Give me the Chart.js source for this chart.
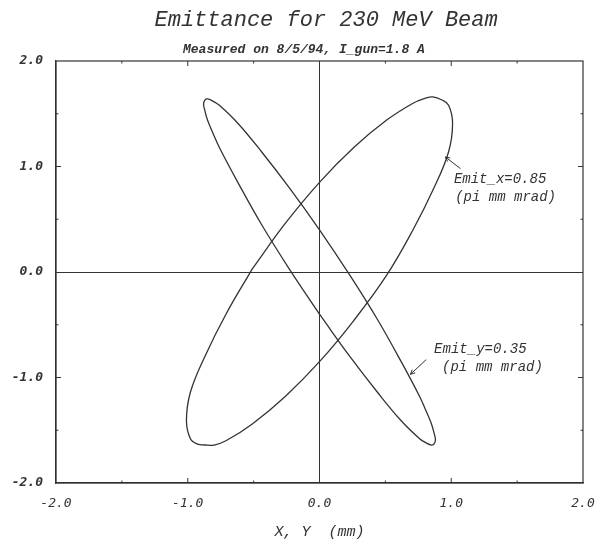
<!DOCTYPE html>
<html><head><meta charset="utf-8">
<script src="https://cdn.jsdelivr.net/npm/chart.js@4/dist/chart.umd.min.js"></script>
<style>html,body{margin:0;padding:0;background:#fff}#wrap{width:601px;height:544px}</style>
</head><body><div id="wrap"><canvas id="c" width="601" height="544"></canvas></div>
<script>
// ---- text ----
const titleText = 'Emittance for 230 MeV Beam';
const subtitleText = 'Measured on 8/5/94, I_gun=1.8 A';
const axisTitle = 'X, Y  (mm)';
const tickValues = [-2, -1, 0, 1, 2];
const tickLabels = ['-2.0', '-1.0', '0.0', '1.0', '2.0'];
const minorTickValues = [-1.5, -0.5, 0.5, 1.5];
const majorTickValues = [-1, 1];

// ---- Emit_x ellipse ----
const emitXx = [-0.51, -0.26, 0.00, 0.26, 0.51, 0.71, 0.80, 0.86, 0.93, 0.98, 1.01, 0.98, 0.87, 0.71, 0.51, 0.26, 0.00, -0.26, -0.51, -0.71, -0.80, -0.87, -0.93, -0.98, -1.01, -0.98, -0.87, -0.71, -0.51];
const emitXy = [0.03, 0.46, 0.85, 1.18, 1.44, 1.60, 1.645, 1.66, 1.63, 1.58, 1.41, 1.14, 0.80, 0.40, -0.03, -0.46, -0.85, -1.18, -1.44, -1.60, -1.64, -1.64, -1.63, -1.58, -1.41, -1.14, -0.80, -0.40, 0.03];

// ---- Emit_y ellipse ----
const emitYx = [0.00, -0.23, -0.44, -0.62, -0.76, -0.81, -0.85, -0.87, -0.88, -0.87, -0.85, -0.81, -0.76, -0.62, -0.44, -0.23, 0.00, 0.23, 0.44, 0.62, 0.76, 0.81, 0.85, 0.87, 0.88, 0.87, 0.85, 0.81, 0.76, 0.62, 0.44, 0.23, 0.00];
const emitYy = [-0.40, 0.03, 0.45, 0.85, 1.18, 1.32, 1.44, 1.53, 1.59, 1.63, 1.64, 1.62, 1.58, 1.41, 1.14, 0.80, 0.40, -0.03, -0.45, -0.85, -1.18, -1.32, -1.44, -1.53, -1.59, -1.63, -1.64, -1.62, -1.58, -1.41, -1.14, -0.80, -0.40];

// ---- annotations ----
const noteXLines = ['Emit_x=0.85', '(pi mm mrad)'];
const noteXAt = [[1.02, 0.88], [1.03, 0.71]];
const noteXArrow = [[1.07, 0.98], [0.955, 1.09]];
const noteYLines = ['Emit_y=0.35', '(pi mm mrad)'];
const noteYAt = [[0.87, -0.73], [0.93, -0.90]];
const noteYArrow = [[0.81, -0.83], [0.69, -0.97]];

const INK = '#333';
const toPts = (xs, ys) => xs.map((x, i) => ({x, y: ys[i]}));
const tickCb = v => { const i = tickValues.indexOf(v); return i < 0 ? '' : tickLabels[i]; };

const framePlugin = {
  id: 'frame',
  afterDraw(chart) {
    const {ctx, chartArea: a, scales: {x, y}} = chart;
    ctx.save();
    ctx.strokeStyle = INK;
    ctx.lineWidth = 1.2;
    ctx.strokeRect(a.left, a.top, a.right - a.left, a.bottom - a.top);
    ctx.lineWidth = 1;
    const drawTicks = (vals, len) => {
      vals.forEach(v => {
        const px = x.getPixelForValue(v), py = y.getPixelForValue(v);
        ctx.beginPath();
        ctx.moveTo(px, a.top); ctx.lineTo(px, a.top + len);
        ctx.moveTo(px, a.bottom); ctx.lineTo(px, a.bottom - len);
        ctx.moveTo(a.left, py); ctx.lineTo(a.left + len, py);
        ctx.moveTo(a.right, py); ctx.lineTo(a.right - len, py);
        ctx.stroke();
      });
    };
    drawTicks(majorTickValues, 5);
    drawTicks(minorTickValues, 2.5);
    // annotations
    ctx.fillStyle = INK;
    ctx.font = 'italic 14px "Liberation Mono"';
    ctx.textAlign = 'left';
    ctx.textBaseline = 'middle';
    const note = (lines, at, arrow) => {
      lines.forEach((t, i) => ctx.fillText(t, x.getPixelForValue(at[i][0]), y.getPixelForValue(at[i][1])));
      const x0 = x.getPixelForValue(arrow[0][0]), y0 = y.getPixelForValue(arrow[0][1]);
      const x1 = x.getPixelForValue(arrow[1][0]), y1 = y.getPixelForValue(arrow[1][1]);
      ctx.beginPath(); ctx.moveTo(x0, y0); ctx.lineTo(x1, y1); ctx.stroke();
      const ang = Math.atan2(y1 - y0, x1 - x0), h = 5;
      ctx.beginPath();
      ctx.moveTo(x1 - h * Math.cos(ang - 0.45), y1 - h * Math.sin(ang - 0.45));
      ctx.lineTo(x1, y1);
      ctx.lineTo(x1 - h * Math.cos(ang + 0.45), y1 - h * Math.sin(ang + 0.45));
      ctx.stroke();
    };
    note(noteXLines, noteXAt, noteXArrow);
    note(noteYLines, noteYAt, noteYArrow);
    ctx.restore();
  }
};

const gridOpts = {
  drawTicks: false,
  lineWidth: 1,
  color: c => (c.tick && c.tick.value === 0) ? INK : 'rgba(0,0,0,0)'
};

new Chart(document.getElementById('c'), {
  type: 'scatter',
  data: {
    datasets: [
      {label: 'Emit_x', data: toPts(emitXx, emitXy), showLine: true, borderColor: INK, borderWidth: 1.3, pointRadius: 0, tension: 0.4, fill: false},
      {label: 'Emit_y', data: toPts(emitYx, emitYy), showLine: true, borderColor: INK, borderWidth: 1.3, pointRadius: 0, tension: 0.4, fill: false}
    ]
  },
  options: {
    responsive: false,
    animation: false,
    devicePixelRatio: 1,
    layout: {padding: {left: 0, right: 18, top: 0, bottom: 0}},
    plugins: {
      legend: {display: false},
      tooltip: {enabled: false},
      title: {display: true, text: ' ' + titleText, color: INK, fullSize: false,
        font: {family: 'Liberation Mono', style: 'italic', size: 22, weight: 'normal', lineHeight: 1.2},
        padding: {top: 7, bottom: 9}},
      subtitle: {display: true, text: subtitleText + '    ', color: INK, fullSize: false,
        font: {family: 'Liberation Mono', style: 'italic', size: 13, weight: 'bold', lineHeight: 1.2},
        padding: {top: 0, bottom: 3}}
    },
    scales: {
      x: {
        type: 'linear', min: -2, max: 2,
        ticks: {stepSize: 1, callback: tickCb, color: INK, padding: 13, maxRotation: 0, autoSkip: false,
          font: {family: 'DejaVu Sans Mono', style: 'italic', size: 13}},
        grid: gridOpts,
        border: {display: true, color: INK, width: 1.2},
        title: {display: true, text: axisTitle, color: INK, padding: {top: 0, bottom: 3},
          font: {family: 'Liberation Mono', style: 'italic', size: 15}},
        afterFit: s => { s.height = 61; s.paddingRight = 0; s.paddingLeft = 0; }
      },
      y: {
        type: 'linear', min: -2, max: 2,
        ticks: {stepSize: 1, callback: tickCb, color: INK, padding: 13,
          font: {family: 'DejaVu Sans Mono', style: 'italic', size: 13, weight: 'bold'}},
        grid: gridOpts,
        border: {display: true, color: INK, width: 1.2},
        afterFit: s => { s.width = 56; }
      }
    }
  },
  plugins: [framePlugin]
});
</script>
</body></html>
